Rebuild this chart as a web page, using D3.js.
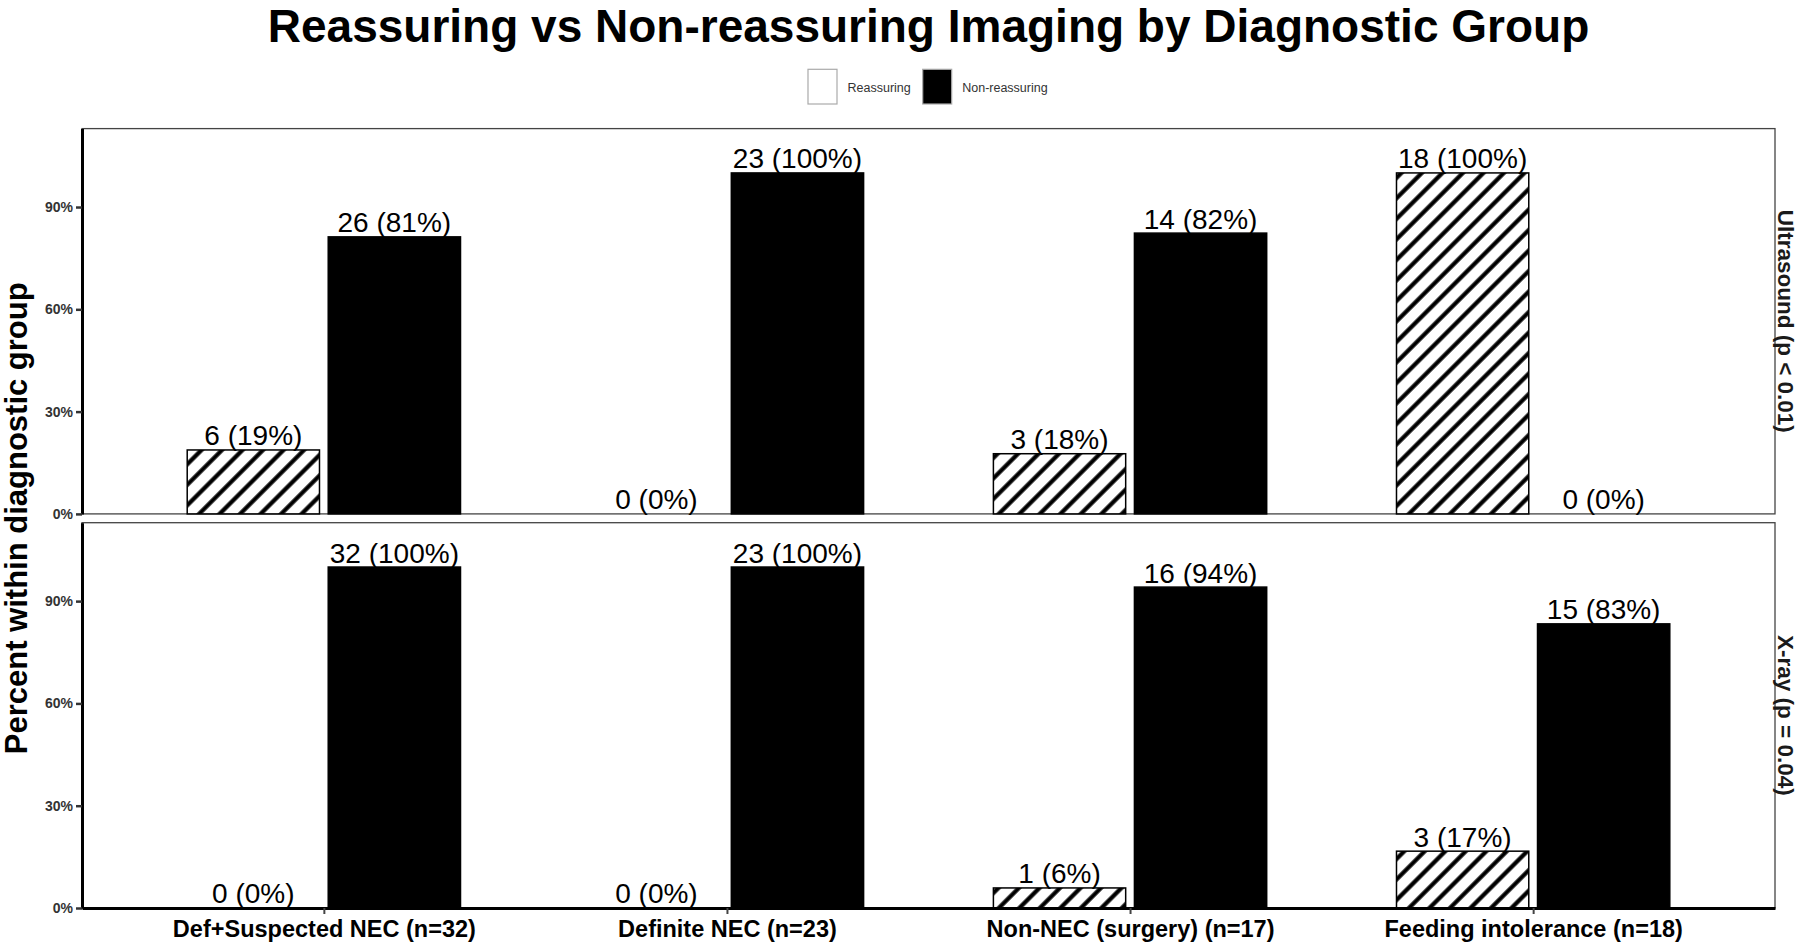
<!DOCTYPE html>
<html>
<head>
<meta charset="utf-8">
<script src="https://cdn.jsdelivr.net/npm/d3@7"></script>
<style>
  body { margin: 0; background: #fff; }
  svg { display: block; font-family: "Liberation Sans", Arial, Helvetica, sans-serif; }
</style>
</head>
<body>
<script>
var groups = ['Def+Suspected NEC (n=32)', 'Definite NEC (n=23)',
              'Non-NEC (surgery) (n=17)', 'Feeding intolerance (n=18)'];
var groupN = [32, 23, 17, 18];
var series = ['Reassuring', 'Non-reassuring'];
var panels = ['Ultrasound (p < 0.01)', 'X-ray (p = 0.04)'];

// counts per diagnostic group
var usReassuring    = [6, 0, 3, 18];
var usNonReassuring = [26, 23, 14, 0];
var xrReassuring    = [0, 0, 1, 3];
var xrNonReassuring = [32, 23, 16, 15];

var yTicks = [0, 0.3, 0.6, 0.9];

var panelCounts = [
  [usReassuring, usNonReassuring],
  [xrReassuring, xrNonReassuring]
];

var w = 1800, h = 942,
  left = 82, right = 1775,
  panelTop = [128.6, 522.7],
  panelH = 385.3;

var svg = d3.select('body')
  .append('svg')
  .attr('width', w)
  .attr('height', h);

// diagonal hatch for the reassuring bars
var pat = svg.append('defs').append('pattern')
  .attr('id', 'hatch')
  .attr('patternUnits', 'userSpaceOnUse')
  .attr('width', 14.5)
  .attr('height', 14.5)
  .attr('patternTransform', 'rotate(45)');
pat.append('rect').attr('width', 14.5).attr('height', 14.5).attr('fill', 'white');
pat.append('line')
  .attr('x1', 7.25).attr('y1', 0).attr('x2', 7.25).attr('y2', 14.5)
  .attr('stroke', 'black')
  .attr('stroke-width', 4.2);

var x = d3.scalePoint().domain(groups).range([left, right]).padding(0.6);
var x1 = d3.scaleBand().domain(series)
  .range([-x.step() * 0.339, x.step() * 0.339])
  .paddingInner(0.062);
var y = d3.scaleLinear().domain([0, 1.13]).range([panelH, 0]);

var fills = { 'Reassuring': 'url(#hatch)', 'Non-reassuring': 'black' };

panels.forEach(function (name, p) {
  var g = svg.append('g').attr('transform', 'translate(0,' + panelTop[p] + ')');

  g.append('rect')
    .attr('x', left).attr('y', 0)
    .attr('width', right - left).attr('height', panelH)
    .attr('fill', 'none')
    .attr('stroke', '#444')
    .attr('stroke-width', 1.3);

  var rows = [];
  series.forEach(function (s, si) {
    panelCounts[p][si].forEach(function (c, i) {
      rows.push({ group: groups[i], series: s, count: c, pct: c / groupN[i] });
    });
  });

  g.selectAll('rect.bar').data(rows.filter(function (d) { return d.count > 0; }))
    .enter()
    .append('rect')
    .attr('class', 'bar')
    .attr('x', function (d) { return x(d.group) + x1(d.series); })
    .attr('y', function (d) { return y(d.pct); })
    .attr('width', x1.bandwidth())
    .attr('height', function (d) { return panelH - y(d.pct); })
    .attr('fill', function (d) { return fills[d.series]; })
    .attr('stroke', 'black')
    .attr('stroke-width', 1.5);

  g.selectAll('text.lab').data(rows)
    .enter()
    .append('text')
    .attr('class', 'lab')
    .text(function (d) { return d.count + ' (' + Math.round(d.pct * 100) + '%)'; })
    .attr('x', function (d) { return x(d.group) + x1(d.series) + x1.bandwidth() / 2; })
    .attr('y', function (d) { return y(d.pct) - 4.5; })
    .attr('text-anchor', 'middle')
    .attr('font-size', '28px')
    .attr('fill', 'black');

  var yAxis = g.append('g')
    .attr('transform', 'translate(' + left + ',0)')
    .call(d3.axisLeft(y).tickValues(yTicks).tickFormat(d3.format('.0%'))
      .tickSize(6).tickSizeOuter(0).tickPadding(3));
  yAxis.select('.domain').attr('stroke', 'black').attr('stroke-width', 3);
  yAxis.selectAll('.tick line').attr('stroke', '#333').attr('stroke-width', 2.5);
  yAxis.selectAll('.tick text')
    .attr('font-size', '14px')
    .attr('font-weight', 'bold')
    .attr('font-family', null)
    .attr('fill', '#333');

  if (p === panels.length - 1) {
    var xAxis = g.append('g')
      .attr('transform', 'translate(0,' + panelH + ')')
      .call(d3.axisBottom(x).tickSize(6).tickSizeOuter(0).tickPadding(6.5));
    xAxis.select('.domain').attr('stroke', 'black').attr('stroke-width', 3);
    xAxis.selectAll('.tick line').attr('stroke', '#444').attr('stroke-width', 2);
    xAxis.selectAll('.tick text')
      .attr('font-size', '23.5px')
      .attr('font-weight', 'bold')
      .attr('font-family', null)
      .attr('fill', 'black');
  }

  // facet strip label on the right
  svg.append('text')
    .attr('transform', 'translate(1778,' + (panelTop[p] + panelH / 2) + ') rotate(90)')
    .attr('text-anchor', 'middle')
    .attr('font-size', '22.5px')
    .attr('font-weight', 'bold')
    .attr('fill', '#1a1a1a')
    .text(name);
});

// y axis title
svg.append('text')
  .attr('transform', 'translate(27,' + (panelTop[0] + (panelTop[1] + panelH - panelTop[0]) / 2) + ') rotate(-90)')
  .attr('text-anchor', 'middle')
  .attr('font-size', '31px')
  .attr('font-weight', 'bold')
  .text('Percent within diagnostic group');

// title
svg.append('text')
  .attr('x', (left + right) / 2)
  .attr('y', 42)
  .attr('text-anchor', 'middle')
  .attr('font-size', '46px')
  .attr('font-weight', 'bold')
  .text('Reassuring vs Non-reassuring Imaging by Diagnostic Group');

// legend
var legendX = [808, 922.7];
var legend = svg.selectAll('g.legend').data(series)
  .enter()
  .append('g')
  .attr('class', 'legend')
  .attr('transform', function (d, i) { return 'translate(' + legendX[i] + ',69.3)'; });
legend.append('rect')
  .attr('width', 29)
  .attr('height', 34.7)
  .attr('fill', function (d) { return d === 'Reassuring' ? 'white' : 'black'; })
  .attr('stroke', '#aaa')
  .attr('stroke-width', 1.2);
legend.append('text')
  .attr('x', 39.5)
  .attr('y', 18.4)
  .attr('dominant-baseline', 'central')
  .attr('font-size', '12.5px')
  .attr('fill', '#333')
  .text(function (d) { return d; });
</script>
</body>
</html>
